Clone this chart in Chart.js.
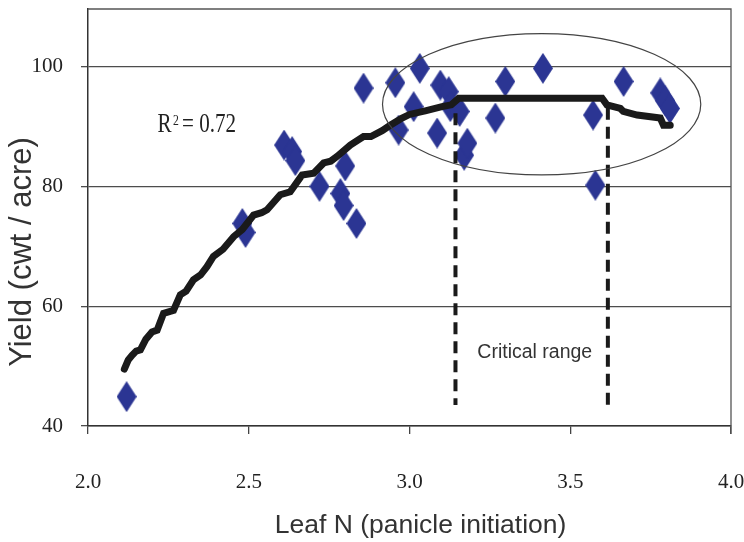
<!DOCTYPE html>
<html>
<head>
<meta charset="utf-8">
<script src="https://cdn.jsdelivr.net/npm/chart.js@4/dist/chart.umd.min.js"></script>
<style>
  html, body { margin: 0; padding: 0; background: #fff; }
</style>
</head>
<body>
<canvas id="myChart" width="744" height="542"></canvas>
<script>
// observed points
const leafN = [2.12, 2.48, 2.49, 2.61, 2.635, 2.645, 2.72, 2.785, 2.795, 2.80, 2.835, 2.857,
  2.956, 2.966, 3.013, 3.032, 3.086, 3.096, 3.122, 3.127, 3.156, 3.17, 3.18,
  3.267, 3.298, 3.415, 3.571, 3.578, 3.666, 3.78, 3.795, 3.81];
const yieldObs = [44.9, 73.8, 72.3, 86.9, 85.8, 84.3, 80.0, 78.8, 76.8, 83.4, 73.8, 96.4,
  97.3, 89.4, 93.3, 99.7, 88.9, 96.9, 95.8, 93.3, 92.5, 85.2, 87.2,
  91.4, 97.5, 99.7, 91.9, 80.2, 97.5, 95.6, 94.3, 93.0];

// fitted response curve
const fitN = [2.113, 2.125, 2.137, 2.150, 2.163, 2.180, 2.199, 2.215, 2.235, 2.266, 2.287, 2.305,
  2.328, 2.350, 2.370, 2.390, 2.420, 2.453, 2.480, 2.515, 2.540, 2.557, 2.598, 2.629,
  2.666, 2.702, 2.733, 2.755, 2.775, 2.816, 2.857, 2.880, 2.915, 2.940, 2.977, 3.000,
  3.049, 3.101, 3.130, 3.153, 3.599, 3.614, 3.656, 3.665, 3.708, 3.780, 3.790, 3.811];
const fitYield = [49.5, 51.0, 51.8, 52.5, 52.7, 54.5, 55.7, 56.0, 58.8, 59.3, 61.9, 62.5,
  64.4, 65.2, 66.6, 68.3, 69.5, 71.6, 72.8, 75.2, 75.6, 76.1, 78.6, 79.1,
  81.9, 82.2, 83.9, 84.2, 85.0, 86.9, 88.3, 88.3, 89.3, 90.2, 91.4, 92.0,
  92.6, 93.3, 93.6, 94.7, 94.7, 93.6, 93.0, 92.5, 91.9, 91.4, 90.2, 90.2];

// critical range limits
const critN = [3.143, 3.617];
const critTop = [92.2, 93.1];
const critBottom = [43.5, 42.4];

const xTicks = [2.0, 2.5, 3.0, 3.5, 4.0];
const yTicks = [40, 60, 80, 100];
const yMax = 109.6;

// diamond marker
const dia = document.createElement('canvas');
dia.width = 20; dia.height = 31;
const dctx = dia.getContext('2d');
dctx.fillStyle = '#2b3593';
dctx.beginPath();
dctx.moveTo(10, 0); dctx.lineTo(20, 15.5); dctx.lineTo(10, 31); dctx.lineTo(0, 15.5);
dctx.closePath();
dctx.fill();

const toXY = (xs, ys) => xs.map((v, i) => ({x: v, y: ys[i]}));

const dashSets = critN.map((n, i) => ({
  data: [{x: n, y: critTop[i]}, {x: n, y: critBottom[i]}],
  showLine: true,
  borderColor: '#1a1a1a',
  borderWidth: 4,
  borderDash: [12, 7],
  pointRadius: 0
}));

const extras = {
  id: 'extras',
  beforeDatasetsDraw(chart) {
    const {ctx, chartArea: a} = chart;
    ctx.save();
    ctx.strokeStyle = '#555';
    ctx.lineWidth = 1.3;
    ctx.beginPath();
    ctx.moveTo(a.left, a.top);
    ctx.lineTo(a.right, a.top);
    ctx.lineTo(a.right, a.bottom + 8);
    ctx.stroke();
    ctx.restore();
  },
  afterDatasetsDraw(chart) {
    const {ctx, scales: {x, y}} = chart;
    ctx.save();
    // oval around the plateau
    const cx = x.getPixelForValue(3.411), cy = y.getPixelForValue(93.7);
    const rx = x.getPixelForValue(3.411 + 0.495) - cx;
    const ry = cy - y.getPixelForValue(93.7 + 11.8);
    ctx.strokeStyle = '#444';
    ctx.lineWidth = 1.2;
    ctx.beginPath();
    ctx.ellipse(cx, cy, rx, ry, 0, 0, Math.PI * 2);
    ctx.stroke();

    // R squared label
    ctx.save();
    ctx.translate(x.getPixelForValue(2.216), y.getPixelForValue(89.1));
    ctx.scale(0.78, 1);
    ctx.fillStyle = '#222';
    ctx.textBaseline = 'alphabetic';
    ctx.font = '27px "Liberation Serif"';
    ctx.fillText('R', 0, 0);
    let w = ctx.measureText('R').width + 2;
    ctx.font = '15px "Liberation Serif"';
    ctx.fillText('2', w, -7);
    w += ctx.measureText('2').width + 4;
    ctx.font = '27px "Liberation Serif"';
    ctx.fillText('= 0.72', w, 0);
    ctx.restore();

    ctx.fillStyle = '#333';
    ctx.font = '19.5px "Liberation Sans"';
    ctx.textAlign = 'left';
    ctx.textBaseline = 'middle';
    ctx.fillText('Critical range', x.getPixelForValue(3.211), y.getPixelForValue(52.2));
    ctx.restore();
  }
};

const ctx = document.getElementById('myChart');
const myChart = new Chart(ctx, {
  type: 'scatter',
  data: {
    datasets: [{
      data: toXY(fitN, fitYield),
      showLine: true,
      borderColor: '#1a1a1a',
      borderWidth: 7,
      borderCapStyle: 'round',
      borderJoinStyle: 'miter',
      pointRadius: 0
    }, ...dashSets, {
      data: toXY(leafN, yieldObs),
      pointStyle: dia,
      pointRadius: 10
    }]
  },
  options: {
    responsive: false,
    animation: false,
    layout: { autoPadding: false, padding: { top: 9, right: 13, left: 0, bottom: 0 } },
    plugins: { legend: { display: false }, tooltip: { enabled: false } },
    scales: {
      x: {
        min: 2.0,
        max: 4.0,
        afterBuildTicks: (s) => { s.ticks = xTicks.map(v => ({value: v})); },
        afterFit: (s) => { s.height = 116; s.paddingLeft = 0; s.paddingRight = 0; },
        border: { color: '#333', width: 1.5 },
        grid: { drawOnChartArea: false, drawTicks: true, tickLength: 8, color: '#444', lineWidth: 1.3 },
        ticks: {
          padding: 36,
          color: '#222',
          font: { family: '"Liberation Serif"', size: 21 },
          callback: (v) => Number(v).toFixed(1)
        },
        title: {
          display: true,
          text: '   Leaf N (panicle initiation)',
          color: '#333',
          font: { family: '"Liberation Sans"', size: 26.5 },
          padding: { top: 0, bottom: 0 }
        }
      },
      y: {
        min: 40,
        max: yMax,
        afterBuildTicks: (s) => { s.ticks = yTicks.map(v => ({value: v})); },
        afterFit: (s) => { s.width = 88; s.paddingTop = 0; s.paddingBottom = 0; },
        border: { color: '#333', width: 1.5 },
        grid: { color: '#4d4d4d', lineWidth: 1.3, tickLength: 7 },
        ticks: {
          padding: 18,
          color: '#222',
          font: { family: '"Liberation Serif"', size: 21 },
          callback: (v) => String(v)
        },
        title: {
          display: true,
          text: 'Yield (cwt / acre)        ',
          color: '#333',
          font: { family: '"Liberation Sans"', size: 31 },
          padding: { top: 4, bottom: 0 }
        }
      }
    }
  },
  plugins: [extras]
});
</script>
</body>
</html>
